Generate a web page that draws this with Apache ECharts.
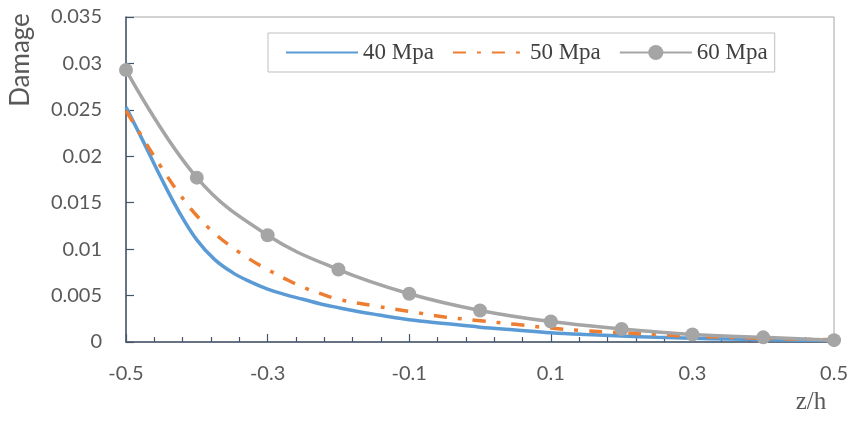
<!DOCTYPE html>
<html><head><meta charset="utf-8">
<script src="https://cdn.jsdelivr.net/npm/echarts@6/dist/echarts.min.js"></script>
<style>html,body{margin:0;padding:0;background:#fff}#c{width:851px;height:421px}</style>
</head><body><div id="c"></div>
<script>
const seriesNames = ['40 Mpa', '50 Mpa', '60 Mpa'];
const zFine = [-0.5, -0.475, -0.45, -0.425, -0.4, -0.375, -0.35, -0.325, -0.3, -0.275, -0.25, -0.225,
  -0.2, -0.15, -0.1, -0.05, 0, 0.05, 0.1, 0.15, 0.2, 0.25, 0.3, 0.35, 0.4, 0.45, 0.5];
const damage40 = [0.0253, 0.0215, 0.0176, 0.0140, 0.0110, 0.0089, 0.0075, 0.0065, 0.0057, 0.0051, 0.0046, 0.0041,
  0.0037, 0.0030, 0.0024, 0.0020, 0.0016, 0.0013, 0.0010, 0.0008, 0.00065, 0.0005, 0.0004, 0.00032, 0.00025, 0.0002, 0.00015];
const damage50 = [0.0249, 0.0218, 0.0188, 0.0160, 0.0136, 0.0117, 0.0102, 0.0089, 0.0078, 0.0068, 0.0059, 0.0052,
  0.0046, 0.0039, 0.0033, 0.0027, 0.0023, 0.0019, 0.0015, 0.0012, 0.0010, 0.0008, 0.00062, 0.0005, 0.0004, 0.0003, 0.00025];
const zGrey = [-0.5, -0.4, -0.3, -0.2, -0.1, 0, 0.1, 0.2, 0.3, 0.4, 0.5];
const damage60 = [0.0293, 0.0177, 0.0115, 0.0078, 0.0052, 0.0034, 0.0022, 0.0014, 0.0008, 0.0005, 0.0002];
const xTickLabels = [-0.5, -0.3, -0.1, 0.1, 0.3, 0.5];
const xMinorTicks = [-0.46, -0.42, -0.38, -0.34, -0.26, -0.22, -0.18, -0.14, -0.06, -0.02, 0.02, 0.06,
  0.14, 0.18, 0.22, 0.26, 0.34, 0.38, 0.42, 0.46];
const yTickLabels = [0, 0.005, 0.01, 0.015, 0.02, 0.025, 0.03, 0.035];

const pairs = (xs, ys) => xs.map((x, i) => [x, ys[i]]);
const axisColor = '#44546a';
const labelFont = { color: '#595959', fontFamily: 'Lato', fontSize: 20 };

const chart = echarts.init(document.getElementById('c'), null, { renderer: 'canvas' });
chart.setOption({
  animation: false,
  backgroundColor: '#fff',
  grid: { left: 126, right: 16, top: 17, bottom: 79, show: true, borderColor: '#a6a6a6', borderWidth: 1 },
  legend: {
    left: 268, top: 33,
    padding: [8, 7, 8, 17],
    itemGap: 18, itemWidth: 72, itemHeight: 19,
    borderColor: '#bfbfbf', borderWidth: 1,
    textStyle: { fontFamily: 'Liberation Serif', fontSize: 23, color: '#404040' },
    data: [
      { name: seriesNames[0], itemStyle: { opacity: 0 } },
      { name: seriesNames[1], itemStyle: { opacity: 0 } },
      { name: seriesNames[2] }
    ]
  },
  xAxis: [{
    type: 'value', min: -0.5, max: 0.5,
    axisLine: { show: true, onZero: false, lineStyle: { color: axisColor, width: 1.5 } },
    axisTick: { show: true, inside: true, length: 8, customValues: xTickLabels, lineStyle: { color: axisColor, width: 1.2 } },
    axisLabel: Object.assign({ customValues: xTickLabels, margin: 22, formatter: v => String(parseFloat(Number(v).toFixed(1))) }, labelFont),
    splitLine: { show: false }
  }, {
    type: 'value', min: -0.5, max: 0.5, position: 'bottom',
    axisLine: { show: false, onZero: false },
    axisTick: { show: true, inside: true, length: 5, customValues: xMinorTicks, lineStyle: { color: axisColor, width: 1.2 } },
    axisLabel: { show: false },
    splitLine: { show: false }
  }],
  yAxis: {
    type: 'value', min: 0, max: 0.035, interval: 0.005,
    axisLine: { show: true, onZero: false, lineStyle: { color: axisColor, width: 1.5 } },
    axisTick: { show: true, inside: true, length: 8, lineStyle: { color: axisColor, width: 1.2 } },
    axisLabel: Object.assign({ customValues: yTickLabels, margin: 24, formatter: v => String(parseFloat(Number(v).toFixed(3))) }, labelFont),
    splitLine: { show: false }
  },
  graphic: [
    { type: 'text', x: 21, y: 60, rotation: Math.PI / 2,
      style: { text: 'Damage', fill: '#595959', font: '26px Lato', align: 'center', verticalAlign: 'middle' } },
    { type: 'text', x: 811, y: 402,
      style: { text: 'z/h', fill: '#595959', font: '25px "Liberation Serif"', align: 'center', verticalAlign: 'middle' } }
  ],
  series: [
    { name: seriesNames[0], type: 'line', data: pairs(zFine, damage40), smooth: 0.4, symbol: 'none',
      lineStyle: { color: '#5B9BD5', width: 3.5 }, itemStyle: { color: '#5B9BD5' }, z: 2 },
    { name: seriesNames[1], type: 'line', data: pairs(zFine, damage50), smooth: 0.4, symbol: 'none',
      lineStyle: { color: '#ED7D31', width: 3.5, type: [13, 11, 4, 11] }, itemStyle: { color: '#ED7D31' }, z: 3 },
    { name: seriesNames[2], type: 'line', data: pairs(zGrey, damage60), smooth: 0.4, symbol: 'circle', symbolSize: 14,
      lineStyle: { color: '#A5A5A5', width: 3.5 }, itemStyle: { color: '#A5A5A5' }, z: 4 }
  ]
});
</script></body></html>
